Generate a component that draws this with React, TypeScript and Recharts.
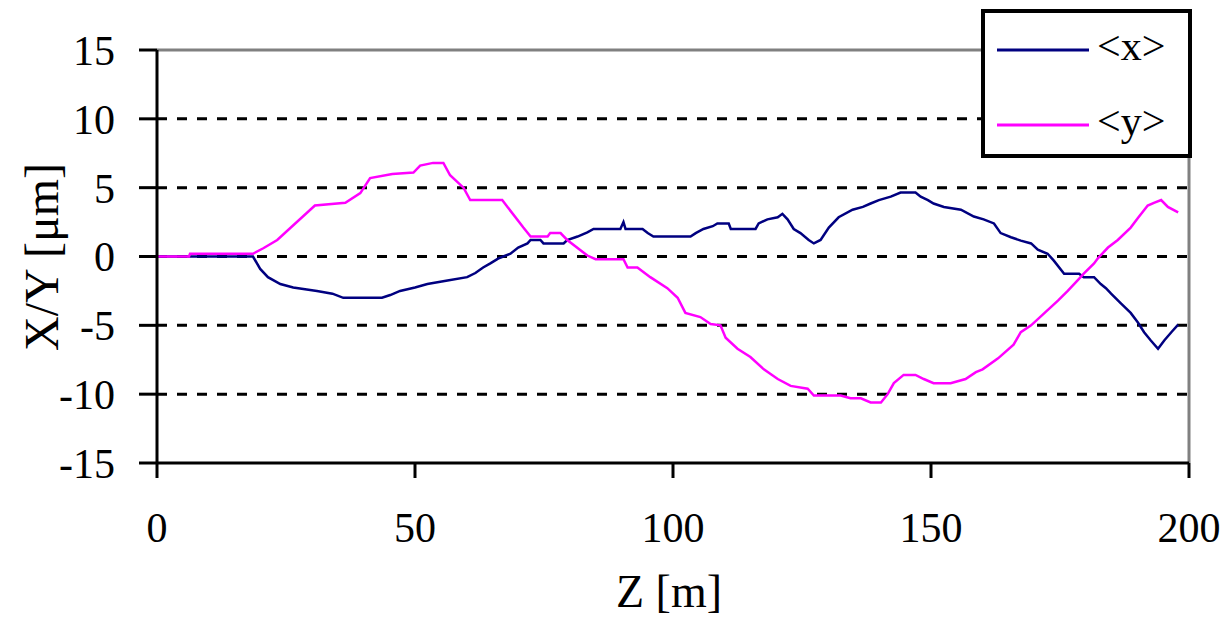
import { LineChart, Line, XAxis, YAxis, CartesianGrid, ReferenceLine, Label } from "recharts";

// <x> centroid vs Z
const xZ = [0, 18.6, 20, 21.5, 23.9, 26.4, 31, 34, 36.1, 43.6, 45.2, 47.1, 50, 52.4, 56.3, 60.1, 61.7, 63.2, 64.6, 66.1, 67.1, 68.5, 70, 71.8, 72.4, 74.3, 74.9, 78.8, 79.5, 81.5, 83.4, 84.6, 89.8, 90.4, 90.8, 94.1, 95.1, 96.2, 103.4, 104.4, 105.9, 107.7, 108.6, 110.8, 111.2, 116, 116.6, 118.3, 120.3, 121.2, 122.2, 123.4, 124.7, 126.3, 127.3, 128.6, 130.2, 132.1, 134.8, 136.8, 138.3, 139.9, 142.2, 144.1, 147, 148, 149.4, 150.5, 152.5, 155.8, 158.3, 160.2, 162.2, 163.5, 165.5, 167.4, 169.4, 170.7, 172.6, 173.8, 175.8, 178.7, 179.6, 181.6, 182.9, 183.9, 184.9, 186.8, 188.7, 190.1, 191.3, 192.6, 194, 195.2, 196.7, 197.9];
const xVals = [0, 0, -0.9, -1.5, -2.0, -2.25, -2.5, -2.7, -3.0, -3.0, -2.8, -2.5, -2.25, -2.0, -1.75, -1.5, -1.2, -0.8, -0.5, -0.15, 0, 0.2, 0.65, 0.95, 1.2, 1.2, 0.95, 0.95, 1.2, 1.45, 1.75, 2.0, 2.0, 2.5, 2.0, 2.0, 1.7, 1.45, 1.45, 1.7, 2.0, 2.2, 2.4, 2.4, 2.0, 2.0, 2.4, 2.7, 2.85, 3.1, 2.7, 2.0, 1.7, 1.2, 0.95, 1.2, 2.1, 2.85, 3.4, 3.6, 3.85, 4.1, 4.35, 4.65, 4.65, 4.35, 4.1, 3.85, 3.6, 3.4, 2.9, 2.7, 2.4, 1.7, 1.4, 1.15, 0.95, 0.5, 0.2, -0.3, -1.25, -1.25, -1.5, -1.5, -2.0, -2.3, -2.7, -3.4, -4.1, -4.8, -5.5, -6.1, -6.7, -6.1, -5.45, -4.95];

// <y> centroid vs Z
const yZ = [0, 6.2, 6.4, 18.6, 20.6, 23.3, 30.6, 36.5, 39.4, 41.3, 45.6, 49.7, 51, 53.5, 55.5, 56.8, 59.4, 60.7, 66.9, 71, 72.4, 75.7, 76.2, 78.2, 79.5, 83.4, 85, 90.4, 91.2, 93.1, 95.6, 98.9, 100.9, 102.4, 105.3, 107.3, 109.2, 110.2, 112.5, 115, 117.6, 120.3, 122.8, 126.1, 127.3, 132.5, 134.4, 136.4, 138.3, 140.3, 141.6, 142.8, 144.7, 147, 148.6, 150.5, 153.8, 156.7, 158.7, 160, 163, 166, 167.4, 169.4, 172.6, 174.6, 176.5, 178.5, 179.6, 181.6, 182.3, 184.3, 186.2, 188.7, 190.1, 192, 193.2, 194.6, 195.9, 197.9];
const yVals = [0, 0, 0.2, 0.2, 0.6, 1.2, 3.7, 3.9, 4.6, 5.7, 6.0, 6.1, 6.6, 6.8, 6.8, 5.9, 5.0, 4.1, 4.1, 2.1, 1.45, 1.45, 1.7, 1.7, 1.2, 0.07, -0.2, -0.2, -0.8, -0.8, -1.5, -2.3, -3.0, -4.1, -4.4, -4.9, -5.0, -5.9, -6.7, -7.3, -8.2, -8.9, -9.4, -9.6, -10.1, -10.1, -10.3, -10.3, -10.6, -10.6, -10.0, -9.2, -8.6, -8.6, -8.9, -9.2, -9.2, -8.9, -8.4, -8.2, -7.4, -6.4, -5.5, -5.0, -3.9, -3.2, -2.5, -1.7, -1.25, -0.5, -0.15, 0.65, 1.2, 2.1, 2.8, 3.7, 3.9, 4.1, 3.6, 3.2];

const xTicks = [0, 50, 100, 150, 200];
const yTicks = [-15, -10, -5, 0, 5, 10, 15];
const gridLevels = [-10, -5, 0, 5, 10];

const seriesNames = ["<x>", "<y>"];
const seriesColors = ["#000080", "#FF00FF"];

const font = "'Liberation Serif', 'Times New Roman', serif";

const xData = xZ.map((z, i) => ({ z, v: xVals[i] }));
const yData = yZ.map((z, i) => ({ z, v: yVals[i] }));

const renderYTitle = () => (
  <text x={41} y={257} transform="rotate(-90 41 257)" textAnchor="middle" dominantBaseline="central"
    fontFamily={font} fontSize={48} fill="#000">
    X/Y [μm]
  </text>
);

const renderXTitle = () => (
  <text x={669} y={607} textAnchor="middle" fontFamily={font} fontSize={46} fill="#000">
    Z [m]
  </text>
);

export default function App() {
  return (
    <div style={{ position: "absolute", left: 0, top: 0, width: 1226, height: 620, background: "#fff" }}>
      <LineChart width={1226} height={620} margin={{ top: 50, right: 37, bottom: 57, left: 17 }}>
        <CartesianGrid horizontal vertical={false} horizontalValues={gridLevels} stroke="#000" strokeWidth={3} strokeDasharray="10 10" />
        <XAxis
          type="number"
          dataKey="z"
          domain={[0, 200]}
          ticks={xTicks}
          height={100}
          tickSize={15}
          tickMargin={34}
          axisLine={{ stroke: "#000", strokeWidth: 3 }}
          tickLine={{ stroke: "#000", strokeWidth: 3 }}
          tick={{ fontFamily: font, fontSize: 42, fill: "#000" }}
          label={<Label content={renderXTitle} />}
        />
        <YAxis
          type="number"
          domain={[-15, 15]}
          ticks={yTicks}
          width={140}
          tickSize={18}
          tickMargin={24}
          axisLine={{ stroke: "#000", strokeWidth: 3 }}
          tickLine={{ stroke: "#000", strokeWidth: 3 }}
          tick={{ fontFamily: font, fontSize: 42, fill: "#000" }}
          label={<Label content={renderYTitle} />}
        />
        <ReferenceLine y={15} stroke="#808080" strokeWidth={3} />
        <ReferenceLine x={200} stroke="#808080" strokeWidth={3} />
        <Line data={xData} dataKey="v" name={seriesNames[0]} type="linear" stroke={seriesColors[0]} strokeWidth={2.5} dot={false} isAnimationActive={false} />
        <Line data={yData} dataKey="v" name={seriesNames[1]} type="linear" stroke={seriesColors[1]} strokeWidth={2.5} dot={false} isAnimationActive={false} />
      </LineChart>
      <div style={{
        position: "absolute", left: 981, top: 9, width: 203, height: 141,
        border: "4px solid #000", background: "#fff", fontFamily: font, fontSize: 42,
      }}>
        {seriesNames.map((name, i) => (
          <div key={name} style={{ position: "absolute", left: 12, top: i === 0 ? 12 : 87, height: 50, display: "flex", alignItems: "center" }}>
            <svg width={92} height={50}>
              <line x1={0} y1={25} x2={92} y2={25} stroke={seriesColors[i]} strokeWidth={3} />
            </svg>
            <span style={{ marginLeft: 8, lineHeight: "50px", position: "relative", top: -4 }}>{name}</span>
          </div>
        ))}
      </div>
    </div>
  );
}
